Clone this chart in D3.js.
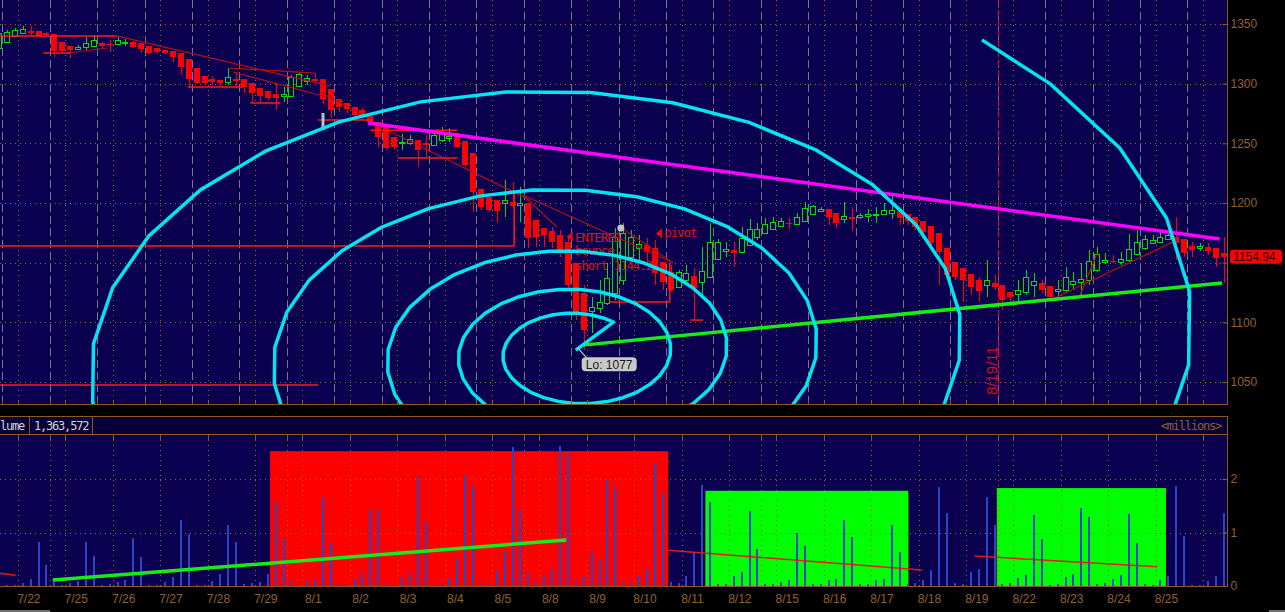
<!DOCTYPE html>
<html>
<head>
<meta charset="utf-8">
<script src="https://cdn.jsdelivr.net/npm/d3@7"></script>
<style>
  html, body { margin: 0; padding: 0; background: #000; }
  svg { display: block; }
</style>
</head>
<body>
<svg id="chart" width="1285" height="612"></svg>
<script>
// ---------- data (hourly bars, index -1 = last bar of 7/21) ----------
const days = ["7/22","7/25","7/26","7/27","7/28","7/29","8/1","8/2","8/3","8/4","8/5","8/8","8/9",
  "8/10","8/11","8/12","8/15","8/16","8/17","8/18","8/19","8/22","8/23","8/24","8/25","8/26"];
const weekStarts = [1, 6, 11, 16, 21];
const firstBar = -1;
const barsPerDay = 6;

const open = [
  1330,1335,1340,1342.5,1344,1344,1342.5,1341.6,1335,1331.6,
  1329,1330.7,1331.6,1334.1,1333.2,1333.2,1334.1,1335,1334,1331.6,
  1330,1328.2,1327.4,1325.7,1320.7,1313.1,1306.4,1303.9,1303.1,1301.4,
  1303.9,1303.9,1300.5,1296.4,1293.8,1291.3,1289.6,1289.6,1298,1302.2,
  1303.9,1303.9,1295.5,1287.1,1283.8,1280.4,1278,1272.9,1267.9,1263.7,
  1255.3,1250.3,1250.3,1252.8,1250.3,1248.6,1252.8,1254.4,1256.1,1251.9,
  1241.9,1211.7,1205,1202.5,1200,1200.8,1198.3,1200,1185.7,1179,
  1176.5,1173.1,1167.3,1149.7,1124.5,1109.4,1112,1116.1,1124.5,1135.4,
  1154.7,1162.2,1164.8,1162.2,1150.5,1142.1,1129.6,1135.4,1138.8,1133.7,
  1137.9,1153,1159.7,1160.6,1158.9,1164.8,1171.5,1174.8,1178.2,1180.7,
  1183.2,1182.4,1184.9,1190.7,1193.3,1194.9,1191.6,1186.6,1188.2,1188.2,
  1189.1,1189.9,1190.7,1191.6,1193.3,1190.7,1188.2,1184.9,1180.7,1174.8,
  1162.2,1150.5,1145.5,1140.5,1135.4,1131.2,1132.9,1131.2,1125.4,1123.7,
  1125.4,1131.2,1132.9,1130.4,1126.2,1127,1132.1,1133.7,1135.4,1143.8,
  1150.5,1151.3,1150.5,1152.2,1157.2,1162.2,1166.4,1167.3,1169.8,1171.5,
  1169.8,1163.9,1162.2,1163.1,1162.2,1158.1
];
const high = [
  1344,1345,1346.6,1348.3,1348.3,1344,1343,1341.6,1335,1331.6,
  1332.4,1339.1,1340.8,1335,1336.6,1339.1,1337.4,1335.7,1334,1331.6,
  1330,1328.2,1327.4,1325.7,1320.7,1313.1,1306.4,1306.4,1303.1,1313.1,
  1309.8,1303.9,1300.5,1296.4,1293.8,1300.5,1297.2,1307.3,1309.8,1307.3,
  1308.9,1303.9,1295.5,1287.1,1283.8,1280.4,1279.6,1272.9,1267.9,1263.7,
  1255.3,1257.8,1257,1252.8,1257,1261.1,1263.7,1262.8,1259.5,1251.9,
  1241.9,1211.7,1205,1202.5,1219.2,1217.6,1213.4,1200,1185.7,1179,
  1179.8,1177.3,1173.1,1149.7,1131.2,1121.2,1135.4,1149.7,1179,1183.2,
  1177.3,1173.1,1170.6,1168.9,1150.5,1148,1143.8,1148,1145.5,1163.1,
  1183.2,1169.8,1167.3,1167.3,1179.8,1186.6,1183.2,1187.4,1188.2,1187.4,
  1187.4,1191.6,1200.8,1198.3,1196.6,1194.9,1191.6,1200.8,1196.6,1191.6,
  1194.9,1196.6,1200,1205.8,1193.3,1190.7,1188.2,1184.9,1180.7,1174.8,
  1162.2,1150.5,1145.5,1140.5,1137.9,1152.2,1139.6,1131.2,1125.4,1135.4,
  1143.8,1141.3,1135.4,1130.4,1135.4,1146.3,1142.1,1149.7,1160.6,1163.1,
  1158.1,1156.4,1158.9,1174,1177.3,1173.1,1173.1,1175.7,1175.7,1188.2,
  1169.8,1167.3,1166.4,1166.4,1162.2,1171.5
];
const low = [
  1329,1335,1340,1342.5,1340,1340,1340,1322.3,1325.7,1321.5,
  1328.2,1327.4,1331.6,1330,1326.5,1333.2,1331.6,1330,1325.7,1325,
  1325,1325,1318,1307.3,1298,1299.7,1299.7,1298.9,1298.9,1298.9,
  1296.4,1292.2,1283.8,1284.6,1286.3,1278,1284.6,1289.6,1298,1298.9,
  1301.4,1283,1271.2,1276.2,1275.4,1272,1269.5,1265.3,1246.9,1244.4,
  1244.4,1244.4,1248.6,1230.1,1238.5,1247.7,1251.1,1251.1,1246.1,1230.1,
  1192.4,1194.1,1192.4,1183.2,1188.2,1195.8,1184,1162.2,1163.1,1163.1,
  1162.2,1154.7,1127,1101.9,1077,1091,1107.8,1114.5,1118.7,1131.2,
  1150.5,1152.2,1148,1131.2,1127,1125.4,1128.7,1133.7,1101.9,1121.2,
  1137.9,1153,1154.7,1146.3,1158.9,1164.8,1168.9,1174.8,1177.3,1179.8,
  1178.2,1181.5,1184.9,1189.9,1192.4,1181.5,1179,1183.2,1176.5,1186.6,
  1184,1183.2,1189.9,1186.6,1181.5,1181.5,1177.3,1173.1,1163.9,1131.2,
  1135.4,1135.4,1117,1122.8,1117,1121.2,1127,1110.3,1117,1117,
  1122.8,1121.2,1124.5,1120.3,1121.2,1124.5,1127,1122.8,1131.2,1142.1,
  1148.8,1149.7,1148,1150.5,1156.4,1160.6,1165.6,1166.4,1168.9,1152.2,
  1154.7,1154.7,1159.7,1156.4,1146.3,1132.9
];
const close = [
  1342.5,1343.3,1345,1345.8,1342.5,1340,1341,1327.4,1327.4,1328.2,
  1330.7,1334.1,1336.6,1331.6,1332.4,1336.6,1334.9,1330.7,1329,1325.7,
  1326.5,1325.7,1322.3,1314,1303.9,1300.5,1300.5,1301.4,1300.5,1305.6,
  1302.2,1297.2,1292.2,1289.6,1288,1288,1291.3,1305.6,1308.1,1304.7,
  1302.2,1287.1,1278,1280.4,1278.8,1273.7,1272,1267.9,1255.3,1246.1,
  1246.9,1251.1,1253.6,1244.4,1248.6,1257,1258.6,1256.1,1246.9,1231.8,
  1209.2,1196.6,1194.1,1193.3,1202.5,1197.4,1200,1170.6,1171.5,1173.1,
  1167.3,1158.1,1131.2,1107.8,1093.5,1112.8,1117,1137.1,1171.5,1174.8,
  1171.5,1165.6,1158.9,1141.3,1133.7,1127,1142.1,1141.3,1128.7,1143,
  1167.3,1167.3,1161.4,1158.1,1170.6,1178.2,1178.2,1182.4,1184,1184.9,
  1182.4,1188.2,1195.8,1197.4,1194.9,1188.2,1183.2,1189.1,1186.6,1189.9,
  1190.7,1190.7,1194.1,1194.1,1187.4,1184.9,1179.8,1175.7,1166.4,1158.9,
  1139.6,1137.9,1135.4,1129.6,1126.2,1135.4,1129.6,1118.7,1121.2,1127,
  1137.9,1134.6,1127,1121.2,1127.9,1137.9,1134.6,1136.3,1151.3,1157.2,
  1152.2,1150.5,1153,1161.4,1167.3,1169.8,1168.9,1171.5,1173.1,1166.4,
  1158.1,1160.6,1163.9,1159.7,1153.9,1154.94
];
// volume in millions
const volume = [
  0,0.02,0.02,0.06,0.13,0.82,0.39,0.08,0.02,0.06,
  0.1,0.82,0.56,0.02,0.04,0.08,0.11,0.9,0.54,0.02,
  0.02,0.08,0.17,1.23,0.97,0.02,0.02,0.1,0.22,1.14,
  0.82,0.04,0.06,0.08,0.22,1.57,0.9,0.1,0.02,0.1,
  0.13,1.64,0.8,0.04,0.02,0.13,0.24,1.42,1.42,0.04,
  0.02,0.17,0.24,2.04,1.18,0.02,0.05,0.15,0.52,2.06,
  1.87,0.04,0.04,0.28,0.64,2.6,1.42,0.24,0.08,0.2,
  0.32,2.62,2.48,0.1,0.18,0.64,0.49,1.98,1.85,0.05,
  0.05,0.18,0.32,2.3,1.74,0.08,0.05,0.18,0.61,1.88,
  1.57,0.04,0.04,0.18,0.26,1.4,0.69,0.03,0.03,0.08,
  0.11,0.99,0.75,0.03,0.03,0.11,0.13,1.23,0.92,0.03,
  0.03,0.11,0.13,1.14,0.64,0.03,0.05,0.11,0.3,1.85,
  1.36,0.05,0.04,0.26,0.32,1.66,1.14,0.04,0.05,0.15,
  0.2,1.33,0.88,0.02,0.03,0.17,0.22,1.46,1.29,0.03,
  0.05,0.13,0.2,1.35,0.8,0.03,0.02,0.11,0.19,1.87,
  0.93,0.02,0.02,0.09,0.18,1.36
];
const lastPrice = 1154.94;
const lastVolume = "1,363,572";
const lowMark = { i: 73, p: 1077 };
const priceTicks = [1050, 1100, 1150, 1200, 1250, 1300, 1350];
const volTicks = [0, 1, 2];

// drawn studies (bar index, price)
const resistance = [[45.7, 1267], [153.5, 1169.8]];
const support = [[72.9, 1080.9], [153.8, 1132.9]];
const spiral = { ci: 72.15, cp: 1074.2, ri: 7.4, rp: 29.7, growth: 1.265,
  t0: 0.95, t1: 10 * Math.PI + 0.906, tail: [72, 1076.7] };
const brightMarks = [
  [[-0.9,1340],[13.9,1340]], [[4.6,1325.7],[8,1325.7]], [[22.9,1297.2],[29.9,1297.2]],
  [[30.8,1283.8],[34.6,1283.8]], [[39.4,1269.5],[46.3,1269.5]], [[46,1261],[57,1261]],
  [[49.5,1237.7],[57,1237.7]], [[-0.9,1163.9],[64.2,1163.9]], [[64.2,1163.9],[64.2,1210.9]],
  [[-0.9,1047.4],[39.4,1047.4]], [[76.3,1117],[83.9,1117]], [[83.9,1117],[83.9,1149.7]],
  [[86.5,1101.9],[88.1,1101.9]]
];
const darkMarks = [
  [[13.9,1340],[40.9,1298]], [[7.6,1325.7],[12.7,1329.9]], [[28.2,1313.1],[39,1308.9]],
  [[28.6,1309.8],[40.5,1288.8]], [[39.6,1293],[46.3,1269.5]], [[46,1267.9],[66.2,1202.5]],
  [[65.3,1206.7],[84.3,1150]], [[65.3,1206.7],[69.6,1179.8]], [[77.6,1179.8],[84.3,1150]],
  [[132.9,1121.2],[148.1,1168.9]], [[135.8,1122],[138,1158]]
];
const notes = [
  { text: "ENTERED", i: 71.9, p: 1167.5 },
  { text: "bounce", i: 71.9, p: 1156.4 },
  { text: "short 1144.25", i: 71.9, p: 1143.8 },
  { text: "pivot", i: 83.2, p: 1171.7 }
];
const noteFlags = [{ i: 70.85, p: 1171.7 }, { i: 82.15, p: 1174.4 }];
const dateMark = { i: 125.4, text: "8/19/11" };

// volume panel studies (bar index, millions)
const volBoxes = [
  { i0: 33.3, i1: 83.7, top: 2.52, color: "#ff0000" },
  { i0: 88.4, i1: 114.1, top: 1.78, color: "#00ff00" },
  { i0: 125.3, i1: 146.7, top: 1.83, color: "#00ff00" }
];
const volGreenLine = [[5.8, 0.11], [70.8, 0.86]];
const volRedLines = [
  [[-0.9, 0.24], [1.1, 0.2]], [[83.7, 0.67], [115.8, 0.3]], [[122.5, 0.56], [145.6, 0.36]]
];

// ---------- layout ----------
const W = 1285, H = 612;
const plotRight = 1227.5;
const priceBottom = 405;
const headTop = 416, headBottom = 435, volBottom = 586;

const C = {
  bg: "#0b0050", head: "#070038", border: "#8b5a24", grid: "#a0681e",
  dash: "#76768c", axisText: "#93602a", up: "#00e000", down: "#ff0000",
  vol: "#2846c8", cyan: "#00e6f0", magenta: "#ff00ff", green: "#14ee14",
  mark: "#ff1a1a", markDark: "#b41010", note: "#e01010"
};

const x = d3.scaleLinear().domain([0, 154]).range([7, 1223.6]);
const y = d3.scaleLinear().domain([1050, 1350]).range([382, 24]);
const yv = d3.scaleLinear().domain([0, 2]).range([volBottom, 479]);

const bars = open.map((o, j) => ({
  i: j + firstBar, o, h: high[j], l: low[j], c: close[j], v: volume[j]
}));

const svg = d3.select("#chart");
svg.append("rect").attr("width", W).attr("height", H).attr("fill", "#000");

const defs = svg.append("defs");
defs.append("clipPath").attr("id", "clipPrice")
  .append("rect").attr("width", plotRight).attr("height", priceBottom);
defs.append("clipPath").attr("id", "clipVol")
  .append("rect").attr("y", headBottom).attr("width", plotRight).attr("height", volBottom - headBottom);

const px = (v) => Math.round(v) + 0.5;
const dayLineIdx = d3.range(days.length).map((k) => k * barsPerDay - 0.57);
const dotLineIdx = d3.range(days.length).map((k) => k * barsPerDay + 1.39);
const weekIdx = weekStarts.map((k) => k * barsPerDay - 0.57);

// ---------- price panel ----------
const gp = svg.append("g").attr("clip-path", "url(#clipPrice)");
gp.append("rect").attr("width", plotRight).attr("height", priceBottom).attr("fill", C.bg);

const grid = gp.append("g").attr("shape-rendering", "crispEdges");
grid.selectAll("line.h").data(priceTicks).join("line")
  .attr("x1", 0).attr("x2", plotRight)
  .attr("y1", (d) => px(y(d))).attr("y2", (d) => px(y(d)))
  .attr("stroke", C.grid).attr("stroke-dasharray", "1,4");
grid.selectAll("line.d").data(dayLineIdx).join("line")
  .attr("x1", (d) => px(x(d))).attr("x2", (d) => px(x(d)))
  .attr("y1", 0).attr("y2", priceBottom)
  .attr("stroke", C.dash).attr("stroke-dasharray", "8,4");
grid.selectAll("line.o").data(dotLineIdx).join("line")
  .attr("x1", (d) => px(x(d))).attr("x2", (d) => px(x(d)))
  .attr("y1", 0).attr("y2", priceBottom)
  .attr("stroke", C.grid).attr("stroke-dasharray", "1,4");

// 8/19/11 marker
gp.append("line")
  .attr("x1", px(x(dateMark.i))).attr("x2", px(x(dateMark.i)))
  .attr("y1", 0).attr("y2", priceBottom)
  .attr("stroke", "#e01010").attr("stroke-dasharray", "7,3");
gp.append("text")
  .attr("transform", `translate(${x(dateMark.i) - 1},${priceBottom - 10}) rotate(-90)`)
  .attr("font-family", "Liberation Sans, Arial, sans-serif").attr("font-size", 15)
  .attr("fill", "#d01010").text(dateMark.text);

// candles
const gc = gp.append("g").attr("shape-rendering", "crispEdges");
gc.selectAll("line.wick").data(bars).join("line")
  .attr("x1", (d) => Math.round(x(d.i)) + 0.5).attr("x2", (d) => Math.round(x(d.i)) + 0.5)
  .attr("y1", (d) => y(d.h)).attr("y2", (d) => y(d.l))
  .attr("stroke", (d) => (d.c >= d.o ? C.up : C.down));
gc.selectAll("rect.body").data(bars).join("rect")
  .attr("x", (d) => (d.c >= d.o ? Math.round(x(d.i)) - 2.5 : Math.round(x(d.i)) - 3))
  .attr("width", (d) => (d.c >= d.o ? 5 : 6))
  .attr("y", (d) => Math.round(y(Math.max(d.o, d.c))) + (d.c >= d.o ? 0.5 : 0))
  .attr("height", (d) => Math.max(1, Math.round(y(Math.min(d.o, d.c)) - y(Math.max(d.o, d.c)))))
  .attr("fill", (d) => (d.c >= d.o ? C.bg : C.down))
  .attr("stroke", (d) => (d.c >= d.o ? C.up : "none"));

// hand drawn trend marks
const seg = d3.line().x((d) => x(d[0])).y((d) => y(d[1]));
gp.selectAll("path.dark").data(darkMarks).join("path")
  .attr("d", seg).attr("fill", "none").attr("stroke", C.markDark).attr("stroke-width", 1.2);
gp.selectAll("path.bright").data(brightMarks).join("path")
  .attr("d", seg).attr("fill", "none").attr("stroke", C.mark).attr("stroke-width", 1.5);

// small grey markers
gp.append("rect").attr("x", x(40) - 1.5).attr("y", y(1275.4))
  .attr("width", 3).attr("height", y(1261.1) - y(1275.4)).attr("fill", "#bdbdbd");
gp.append("circle").attr("cx", x(77.7)).attr("cy", y(1179)).attr("r", 3.5).attr("fill", "#c4c4c4");

// notes
gp.selectAll("path.flag").data(noteFlags).join("path")
  .attr("d", (d) => {
    const fx = x(d.i), fy = y(d.p);
    return `M${fx},${fy}L${fx + 6},${fy - 5}L${fx + 6},${fy + 5}Z`;
  })
  .attr("fill", C.note);
gp.selectAll("text.note").data(notes).join("text")
  .attr("x", (d) => x(d.i)).attr("y", (d) => y(d.p))
  .attr("font-family", "DejaVu Sans Mono, monospace").attr("font-size", 12.5)
  .attr("letter-spacing", "-1.1").attr("fill", C.note).text((d) => d.text);

// resistance / support
gp.append("path").attr("d", seg(resistance)).attr("stroke", C.magenta)
  .attr("stroke-width", 3.5).attr("fill", "none");
gp.append("path").attr("d", seg(support)).attr("stroke", C.green)
  .attr("stroke-width", 3.5).attr("fill", "none");

// spiral
const kGrow = Math.log(spiral.growth) / Math.PI;
const spiralAt = (t) => {
  const r = Math.exp(kGrow * t);
  return [spiral.ci + spiral.ri * r * Math.cos(t), spiral.cp + spiral.rp * r * Math.sin(t)];
};
const spiralPts = [spiral.tail];
for (let t = spiral.t0; t < spiral.t1; t += Math.PI / 16) spiralPts.push(spiralAt(t));
spiralPts.push(spiralAt(spiral.t1));
gp.append("path").attr("d", seg(spiralPts)).attr("fill", "none")
  .attr("stroke", C.cyan).attr("stroke-width", 3.5).attr("stroke-linejoin", "round");

// low label
const lx = x(lowMark.i), ly = y(lowMark.p);
gp.append("line").attr("x1", lx - 6).attr("y1", ly - 2).attr("x2", lx + 3).attr("y2", ly + 8)
  .attr("stroke", "#c8c8c8").attr("stroke-width", 1.2);
gp.append("rect").attr("x", lx - 2).attr("y", ly + 7.5).attr("width", 55).attr("height", 14)
  .attr("rx", 4).attr("fill", "#c8c8c8");
gp.append("text").attr("x", lx + 25.5).attr("y", ly + 18.8).attr("text-anchor", "middle")
  .attr("font-family", "Liberation Sans, Arial, sans-serif").attr("font-size", 12)
  .attr("fill", "#1a1a1a").text(`Lo: ${lowMark.p}`);

// price panel frame + ticks
const frame = svg.append("g").attr("shape-rendering", "crispEdges");
frame.append("line").attr("x1", 0).attr("x2", plotRight).attr("y1", priceBottom - 0.5).attr("y2", priceBottom - 0.5)
  .attr("stroke", C.border);
frame.append("line").attr("x1", plotRight).attr("x2", plotRight).attr("y1", 0).attr("y2", priceBottom)
  .attr("stroke", C.border);
frame.selectAll("line.bt").data(dayLineIdx.concat(dotLineIdx)).join("line")
  .attr("x1", (d) => px(x(d))).attr("x2", (d) => px(x(d)))
  .attr("y1", priceBottom - 5).attr("y2", priceBottom)
  .attr("stroke", C.border);

// last price tag sits over the axis, so the nearby label is left out
const lpY = y(lastPrice);
const yAxis = d3.axisRight(y)
  .tickValues(priceTicks.filter((d) => Math.abs(y(d) - lpY) > 10))
  .tickFormat(d3.format("d")).tickSizeInner(-5).tickSizeOuter(0).tickPadding(3);
const ga = svg.append("g").attr("transform", `translate(${plotRight},0)`).call(yAxis)
  .attr("font-family", "Liberation Sans, Arial, sans-serif").attr("font-size", 12);
ga.select(".domain").remove();
ga.selectAll(".tick line").attr("stroke", C.border);
ga.selectAll(".tick text").attr("fill", C.axisText);
svg.append("line").attr("x1", plotRight - 5).attr("x2", plotRight).attr("y1", px(y(1150)) - 0.5)
  .attr("y2", px(y(1150)) - 0.5).attr("stroke", C.border);

svg.append("rect").attr("x", 1230).attr("y", lpY - 7).attr("width", 52).attr("height", 14)
  .attr("rx", 3).attr("fill", "#ff0000");
svg.append("text").attr("x", 1233).attr("y", lpY + 4.5)
  .attr("font-family", "Liberation Sans, Arial, sans-serif").attr("font-size", 12)
  .attr("fill", "#2a0000").text(lastPrice.toFixed(2));

// ---------- volume header ----------
const gh = svg.append("g");
gh.append("rect").attr("y", headTop).attr("width", plotRight).attr("height", headBottom - headTop)
  .attr("fill", C.head);
gh.append("g").attr("shape-rendering", "crispEdges").selectAll("line")
  .data([[0, plotRight, headTop + 0.5, headTop + 0.5], [0, plotRight, headBottom - 0.5, headBottom - 0.5],
    [29.5, 29.5, headTop, headBottom], [92.5, 92.5, headTop, headBottom],
    [plotRight, plotRight, headTop, headBottom]])
  .join("line")
  .attr("x1", (d) => d[0]).attr("x2", (d) => d[1]).attr("y1", (d) => d[2]).attr("y2", (d) => d[3])
  .attr("stroke", C.border);
const monoText = (sel) => sel.attr("font-family", "DejaVu Sans Mono, monospace")
  .attr("font-size", 12).attr("letter-spacing", "-1.2");
// the study title is scrolled so only its tail shows
gh.append("text").attr("x", 0).attr("y", headTop + 14)
  .attr("fill", "#d4d4d4").call(monoText).text("lume");
gh.append("text").attr("x", 34).attr("y", headTop + 14)
  .attr("fill", "#d4d4d4").call(monoText).text(lastVolume);
gh.append("text").attr("x", 1221).attr("y", headTop + 14).attr("text-anchor", "end")
  .attr("fill", C.axisText).call(monoText).text("<millions>");

// ---------- volume panel ----------
const gv = svg.append("g").attr("clip-path", "url(#clipVol)");
gv.append("rect").attr("y", headBottom).attr("width", plotRight).attr("height", volBottom - headBottom)
  .attr("fill", C.bg);
gv.selectAll("rect.box").data(volBoxes).join("rect")
  .attr("x", (d) => x(d.i0)).attr("width", (d) => x(d.i1) - x(d.i0))
  .attr("y", (d) => yv(d.top)).attr("height", (d) => yv(0) - yv(d.top))
  .attr("fill", (d) => d.color);

const vgrid = gv.append("g").attr("shape-rendering", "crispEdges");
vgrid.selectAll("line.h").data([1, 2]).join("line")
  .attr("x1", 0).attr("x2", plotRight)
  .attr("y1", (d) => px(yv(d))).attr("y2", (d) => px(yv(d)))
  .attr("stroke", C.grid).attr("stroke-dasharray", "1,4");
vgrid.selectAll("line.v").data(dotLineIdx.concat(weekIdx)).join("line")
  .attr("x1", (d) => px(x(d))).attr("x2", (d) => px(x(d)))
  .attr("y1", headBottom).attr("y2", volBottom)
  .attr("stroke", C.grid).attr("stroke-dasharray", "1,4");
vgrid.selectAll("line.t").data(dotLineIdx.concat(weekIdx)).join("line")
  .attr("x1", (d) => px(x(d))).attr("x2", (d) => px(x(d)))
  .attr("y1", headBottom).attr("y2", headBottom + 6)
  .attr("stroke", C.border);

gv.append("g").attr("shape-rendering", "crispEdges")
  .selectAll("rect").data(bars.filter((d) => d.v > 0)).join("rect")
  .attr("x", (d) => Math.round(x(d.i)) - 1).attr("width", 2)
  .attr("y", (d) => yv(d.v)).attr("height", (d) => yv(0) - yv(d.v))
  .attr("fill", C.vol);

const vseg = d3.line().x((d) => x(d[0])).y((d) => yv(d[1]));
gv.selectAll("path.red").data(volRedLines).join("path")
  .attr("d", vseg).attr("fill", "none").attr("stroke", "#e81818").attr("stroke-width", 1.5);
gv.append("path").attr("d", vseg(volGreenLine)).attr("fill", "none")
  .attr("stroke", C.green).attr("stroke-width", 3.5);

const vframe = svg.append("g").attr("shape-rendering", "crispEdges");
vframe.append("line").attr("x1", 0).attr("x2", plotRight).attr("y1", volBottom + 0.5).attr("y2", volBottom + 0.5)
  .attr("stroke", C.border);
vframe.append("line").attr("x1", plotRight).attr("x2", plotRight).attr("y1", headBottom).attr("y2", volBottom + 1)
  .attr("stroke", C.border);

const vAxis = d3.axisRight(yv).tickValues(volTicks).tickFormat(d3.format("d"))
  .tickSizeInner(-5).tickSizeOuter(0).tickPadding(3);
const gva = svg.append("g").attr("transform", `translate(${plotRight},0)`).call(vAxis)
  .attr("font-family", "Liberation Sans, Arial, sans-serif").attr("font-size", 12);
gva.select(".domain").remove();
gva.selectAll(".tick line").attr("stroke", C.border);
gva.selectAll(".tick text").attr("fill", C.axisText);

// date axis
const labelIdx = days.slice(0, 25).map((d, k) => k * barsPerDay + 2.7);
const xAxis = d3.axisBottom(x).tickValues(labelIdx).tickFormat((d, k) => days[k])
  .tickSize(0).tickPadding(8.5);
const gx = svg.append("g").attr("transform", `translate(0,${volBottom})`).call(xAxis)
  .attr("font-family", "Liberation Sans, Arial, sans-serif").attr("font-size", 12);
gx.select(".domain").remove();
gx.selectAll(".tick text").attr("fill", C.axisText);

// scrollbar stubs
svg.append("rect").attr("x", 0).attr("y", 610).attr("width", 50).attr("height", 2).attr("fill", "#6f6f6f");
svg.append("rect").attr("x", 1269).attr("y", 610).attr("width", 16).attr("height", 2).attr("fill", "#6f6f6f");
</script>
</body>
</html>
